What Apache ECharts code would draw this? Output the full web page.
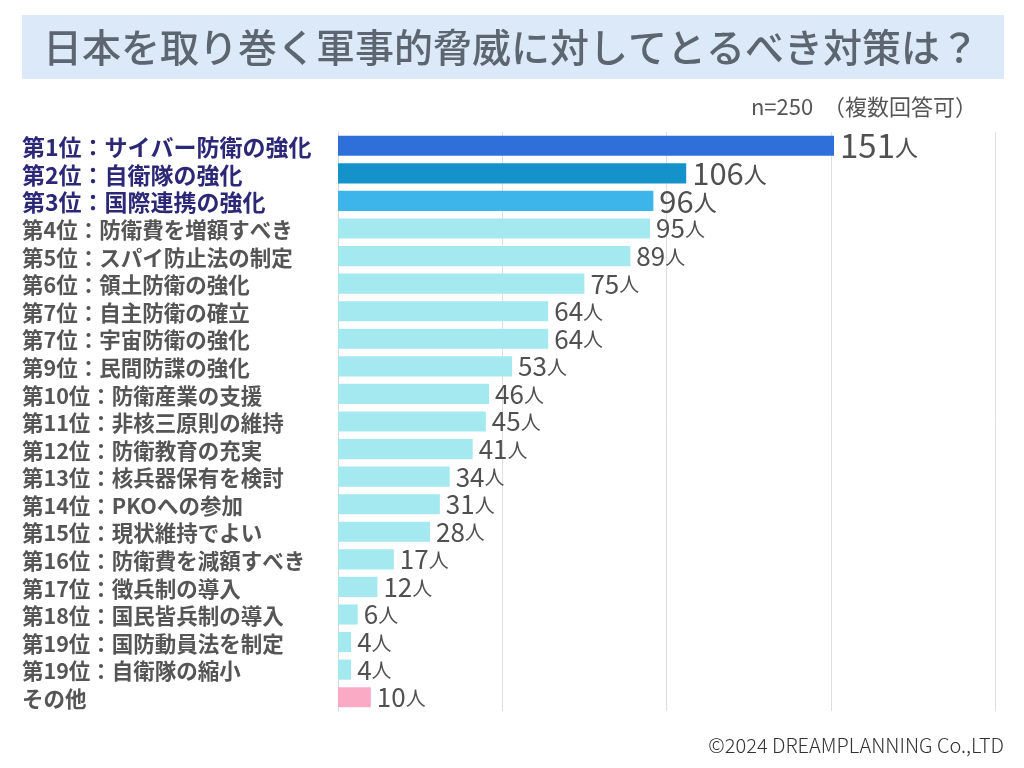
<!DOCTYPE html>
<html><head><meta charset="utf-8">
<script src="https://cdn.jsdelivr.net/npm/echarts@6/dist/echarts.min.js"></script>
<style>html,body{margin:0;padding:0;background:#fff}#c{width:1024px;height:768px}</style>
</head><body><div id="c"></div>
<script>
const titleText = '日本を取り巻く軍事的脅威に対してとるべき対策は？';
const noteText = 'n=250  （複数回答可）';
const creditText = '©2024 DREAMPLANNING Co.,LTD';
const categories = [
  '第1位：サイバー防衛の強化','第2位：自衛隊の強化','第3位：国際連携の強化',
  '第4位：防衛費を増額すべき','第5位：スパイ防止法の制定','第6位：領土防衛の強化',
  '第7位：自主防衛の確立','第7位：宇宙防衛の強化','第9位：民間防諜の強化',
  '第10位：防衛産業の支援','第11位：非核三原則の維持','第12位：防衛教育の充実',
  '第13位：核兵器保有を検討','第14位：PKOへの参加','第15位：現状維持でよい',
  '第16位：防衛費を減額すべき','第17位：徴兵制の導入','第18位：国民皆兵制の導入',
  '第19位：国防動員法を制定','第19位：自衛隊の縮小','その他'
];
const values = [151,106,96,95,89,75,64,64,53,46,45,41,34,31,28,17,12,6,4,4,10];
const unit = '人';
const xTicks = [0,50,100,150,200];

const barColors = ['#2f6fd9','#1592c9','#3db4ea'];
const baseColor = '#a3e9ef';
const otherColor = '#fbaac6';

const chart = echarts.init(document.getElementById('c'), null, {renderer:'canvas'});
const data = values.map((v,i)=>{
  let color = i < 3 ? barColors[i] : (i === values.length-1 ? otherColor : baseColor);
  let big = i < 3;
  return {
    value: v,
    itemStyle: {color},
    label: {
      formatter: '{n|' + v + '}{u|' + unit + '}',
      rich: {
        n: {fontSize: i===0?33:(i<3?31:26), color:'#505050', fontFamily:'Noto Sans CJK JP'},
        u: {fontSize: big?23:20, color:'#505050', fontFamily:'Noto Sans CJK JP', padding:[2,0,0,0]}
      }
    }
  };
});

chart.setOption({
  animation:false,
  graphic:[
    {type:'rect', shape:{x:22,y:15,width:982,height:64}, style:{fill:'#dbe9f8'}},
    {type:'text', x:511, y:47, style:{text:titleText, font:'500 39px "Noto Sans CJK JP"', fill:'#5d6570', textAlign:'center', textVerticalAlign:'middle'}},
    {type:'text', x:977, y:107, style:{text:noteText, font:'22px "Noto Sans CJK JP"', fill:'#555', textAlign:'right', textVerticalAlign:'middle'}},
    {type:'text', x:1004, y:745, style:{text:creditText, font:'300 20px "Noto Sans CJK JP"', fill:'#333', textAlign:'right', textVerticalAlign:'middle'}}
  ],
  grid:{left:338, top:132, right:29, bottom:57, containLabel:false},
  xAxis:{
    type:'value', min:xTicks[0], max:xTicks[xTicks.length-1], interval:50,
    axisLabel:{show:false}, axisLine:{show:false}, axisTick:{show:false},
    splitLine:{show:true, lineStyle:{color:'#dedede', width:1}}
  },
  yAxis:{
    type:'category', data:categories, inverse:true,
    axisLine:{show:true, lineStyle:{color:'#d6d6d6'}}, axisTick:{show:false},
    axisLabel:{
      align:'left', margin:316, fontFamily:'Noto Sans CJK JP',
      formatter:(v,i)=> i<3 ? '{t|'+v+'}' : '{r|'+v+'}',
      rich:{
        t:{fontSize:23, fontWeight:'bold', color:'#2c2878', fontFamily:'Noto Sans CJK JP', padding:[3,0,0,0]},
        r:{fontSize:21.5, fontWeight:'bold', color:'#555', fontFamily:'Noto Sans CJK JP', padding:[3,0,0,0]}
      }
    }
  },
  series:[{
    type:'bar', data:data, barCategoryGap:'27%',
    label:{show:true, position:'right', distance:6}
  }]
});
</script></body></html>
